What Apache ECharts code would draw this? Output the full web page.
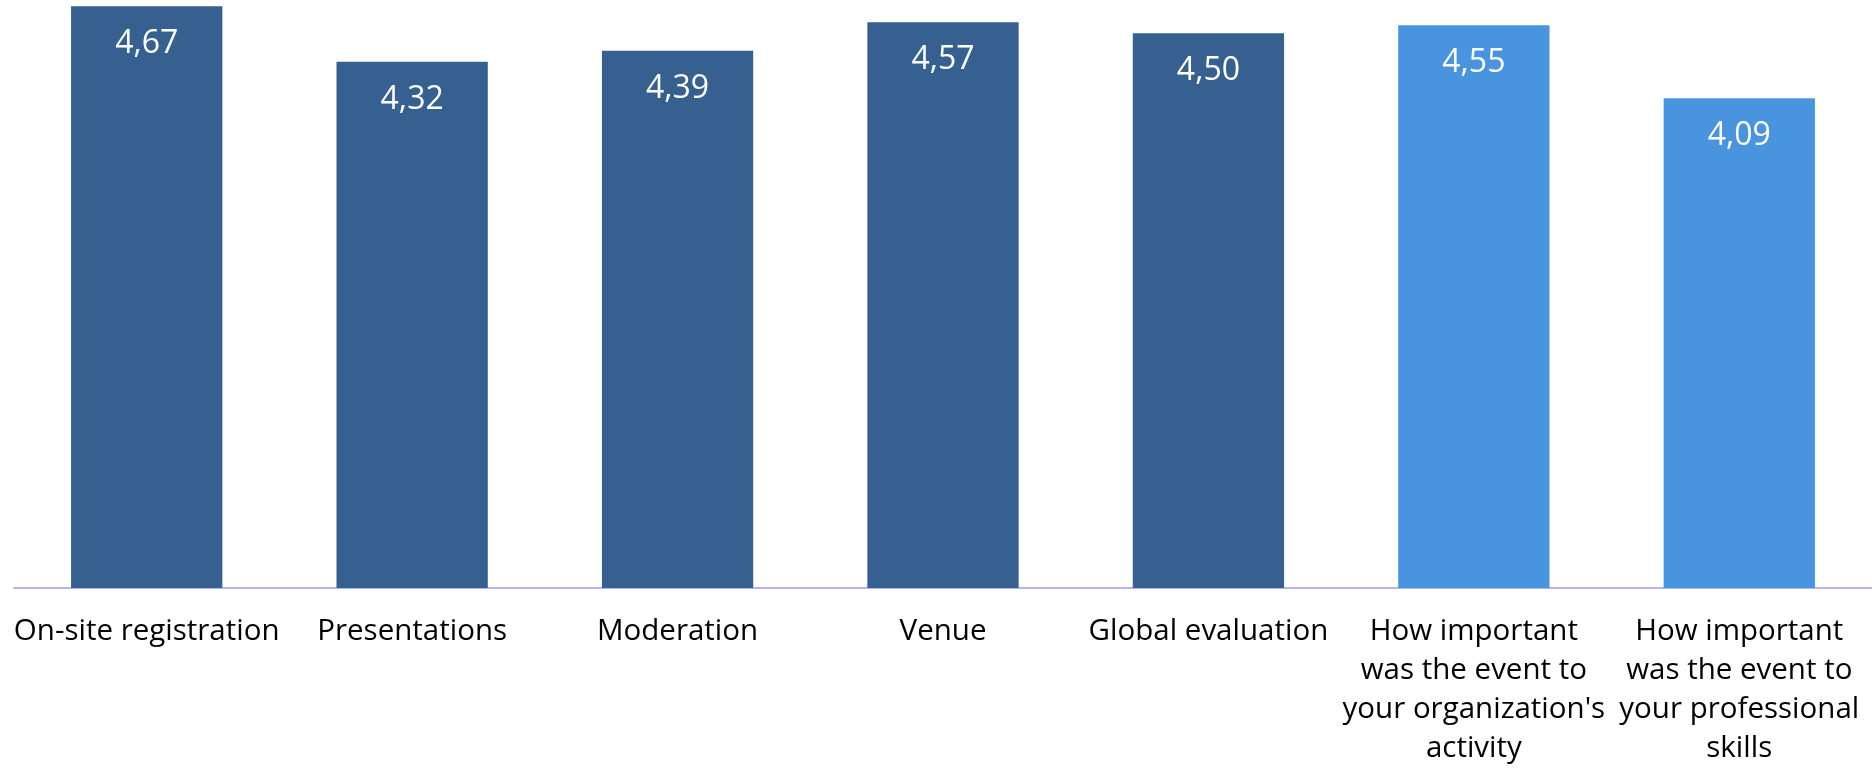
<!DOCTYPE html>
<html>
<head>
<meta charset="utf-8">
<script src="https://cdn.jsdelivr.net/npm/echarts@6/dist/echarts.min.js"></script>
<style>
html,body{margin:0;padding:0;background:#fff;}
#c{width:1872px;height:768px;}
</style>
</head>
<body>
<div id="c"></div>
<script>
const categories = [
  "On-site registration",
  "Presentations",
  "Moderation",
  "Venue",
  "Global evaluation",
  "How important\nwas the event to\nyour organization's\nactivity",
  "How important\nwas the event to\nyour professional\nskills"
];
const values = [4.67, 4.32, 4.39, 4.57, 4.50, 4.55, 4.09];
const barColors = ["#36608f", "#36608f", "#36608f", "#36608f", "#36608f", "#4894df", "#4894df"];

const chart = echarts.init(document.getElementById('c'));
chart.setOption({
  animation: false,
  grid: { left: 14, right: 0, top: 0, bottom: 180, containLabel: false, outerBoundsMode: 'none' },
  xAxis: {
    type: 'category',
    data: categories,
    axisLine: { lineStyle: { color: '#b4b4f0', width: 2 } },
    axisTick: { show: false },
    axisLabel: {
      interval: 0,
      color: '#000',
      fontFamily: 'Open Sans',
      fontSize: 29.5,
      lineHeight: 39,
      margin: 24,
      align: 'center'
    }
  },
  yAxis: {
    type: 'value',
    min: 1,
    max: 4.71,
    show: false,
    splitLine: { show: false }
  },
  series: [{
    type: 'bar',
    barWidth: '57%',
    data: values.map((v, i) => ({ value: v, itemStyle: { color: barColors[i] } })),
    label: {
      show: true,
      position: 'insideTop',
      distance: 22,
      color: '#fff',
      fontFamily: 'Open Sans',
      fontSize: 32,
      formatter: p => p.value.toFixed(2).replace('.', ',')
    }
  }]
});
</script>
</body>
</html>
